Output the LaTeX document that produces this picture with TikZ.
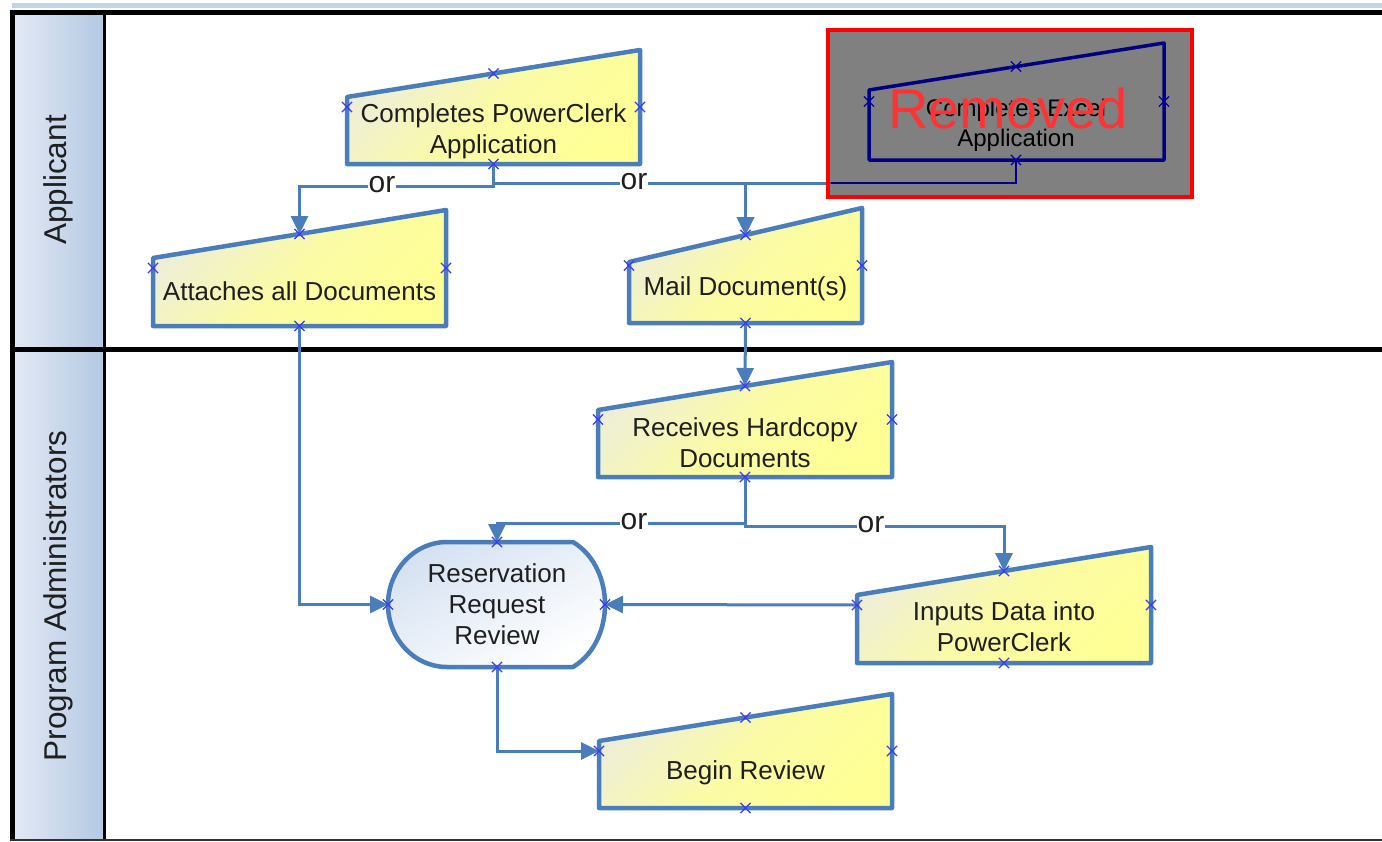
\documentclass[tikz,border=0pt]{standalone}
\usepackage{fontspec}
\setmainfont{Liberation Sans}
\usetikzlibrary{arrows.meta,shapes.misc,calc}
\definecolor{lineblue}{HTML}{4A7EBB}
\definecolor{markblue}{HTML}{3B3BF5}
\definecolor{paleyel}{HTML}{EEEED8}
\definecolor{yel}{HTML}{FFFF96}
\definecolor{hdrlight}{HTML}{E2E9F4}
\definecolor{hdrdark}{HTML}{B4C8E3}
\definecolor{navyc}{HTML}{000080}
\definecolor{boxgray}{HTML}{808080}
\definecolor{rrblue}{HTML}{D6E2F2}
\tikzset{
  mishape/.style={draw=lineblue, line width=4.5pt, line join=round, top color=paleyel, bottom color=yel, middle color=yel!75!paleyel, shading angle=45},
  mitext/.style={font=\fontsize{26}{31}\selectfont, align=center, text=black!88, inner sep=0pt},
  lanetext/.style={font=\fontsize{31.5}{34}\selectfont, text=black!88, rotate=90, inner sep=0pt},
  conn/.style={draw=lineblue, line width=3pt, line join=miter},
  arr/.style={conn, -{Triangle[length=18pt,width=17pt]}},
  orlab/.style={font=\fontsize{30}{32}\selectfont, text=black!88, fill=white, inner sep=1pt},
  cmark/.style={cross out, draw=markblue, line width=1.2pt, minimum size=9pt, inner sep=0pt},
  frame/.style={draw=black, line width=5pt},
}
\newcommand\maninp[8]{%
  \path[mishape] (#2,#6) -- (#2,#4) -- (#3,#5) -- (#3,#6) -- cycle;
  \node[mitext] (#1) at ({(#2+#3)/2},#8) {#7};
  \coordinate (#1-n) at ({(#2+#3)/2},{(#4+#5)/2});
  \coordinate (#1-s) at ({(#2+#3)/2},#6);
  \coordinate (#1-w) at (#2,{(#5+#6)/2});
  \coordinate (#1-e) at (#3,{(#5+#6)/2});
}
\newcommand\cmarks[2][cmark]{%
  \node[#1] (#2-mn) at (#2-n) {};
  \node[#1] (#2-ms) at (#2-s) {};
  \node[#1] (#2-mw) at (#2-w) {};
  \node[#1] (#2-me) at (#2-e) {};
}
\begin{document}
\begin{tikzpicture}[x=1pt,y=-1pt]
\useasboundingbox (0,0) rectangle (1382,841);
% lanes
\fill[hdrdark!80] (12,3) rectangle (1382,8);
\shade[left color=hdrlight, right color=hdrdark] (14,14) rectangle (104,349);
\shade[left color=hdrlight, right color=hdrdark] (14,349) rectangle (104,839);
\node[lanetext] (lane1) at (58,180) {Applicant};
\node[lanetext] (lane2) at (58,596) {Program Administrators};
\draw[frame] (10,12) -- (1382,12);
\draw[frame] (12,10) -- (12,841);
\draw[draw=black, line width=3.5pt] (104.5,12) -- (104.5,841);
\draw[draw=black, line width=4.5pt] (10,349.5) -- (1382,349.5);
\draw[draw=black!80, line width=2.5pt] (10,840) -- (1382,840);

% shapes
\maninp{pc}{347}{640}{97}{50}{164}{Completes PowerClerk\\Application}{131.5}
\maninp{at}{153}{446}{258}{210}{326}{Attaches all Documents}{291}
\maninp{ml}{629}{862}{262}{208}{323}{Mail Document(s)}{289}
\maninp{rc}{598}{892}{410}{362}{477}{Receives Hardcopy\\Documents}{443}
\maninp{in}{857}{1151}{595}{547}{663}{Inputs Data into\\PowerClerk}{627}
\maninp{br}{599}{892}{741}{694}{808}{Begin Review}{773}

% reservation request review
\path[draw=lineblue, line width=4.5pt, line join=round, left color=rrblue, right color=white, shading angle=30]
  (447,542) -- (573,542) .. controls (596,556) and (605,582) .. (605,604.5)
  .. controls (605,627) and (596,653) .. (573,667) -- (447,667)
  .. controls (414.4,667) and (388,639) .. (388,604.5)
  .. controls (388,570) and (414.4,542) .. (447,542) -- cycle;
\node[mitext] (rr) at (497,604) {Reservation\\Request\\Review};
\coordinate (rr-n) at (497,542);
\coordinate (rr-s) at (497,667);
\coordinate (rr-w) at (388,604.5);
\coordinate (rr-e) at (605,604.5);

% Excel application (removed)
\coordinate (ex-s) at (1016,160);

% connectors
\draw[arr] (pc-s) -- ++(0,22) -| (at-n);
\draw[arr] (pc-s) -- ++(0,19) -| (ml-n);
\draw[arr] (ex-s) -- ++(0,23) -| (ml-n);
\node[orlab] (or1) at (382,185) {or};
\node[orlab] (or2) at (634,182) {or};
\draw[arr] (at-s) |- (rr-w);
\draw[arr] (ml-s) -- (rc-n);
\draw[arr] (rc-s) -- ++(0,46) -| (rr-n);
\draw[arr] (rc-s) -- ++(0,49) -| (in-n);
\node[orlab] (or3) at (634,522) {or};
\node[orlab] (or4) at (871,525) {or};
\draw[arr] (in-w) -- (rr-e);
\draw[arr] (rr-s) |- (br-w);

% marks
\cmarks{pc}\cmarks{at}\cmarks{ml}\cmarks{rc}\cmarks{in}\cmarks{br}\cmarks{rr}

% removed box
\draw[draw=red, line width=4.5pt, fill=boxgray] (828,30) rectangle (1192,197);
\begin{scope}
  \clip (830.5,32.5) rectangle (1189.5,194.5);
  \draw[draw=navyc, line width=2.6pt] (ex-s) -- ++(0,23) -| (ml-n);
\end{scope}
\path[draw=navyc, line width=3.5pt, line join=round] (869,160) -- (869,90) -- (1164,43) -- (1164,160) -- cycle;
\node[mitext, text=black, font=\fontsize{24}{30}\selectfont] (ex) at (1016,125) {Completes Excel\\Application};
\coordinate (ex-n) at (1016,66.5);
\coordinate (ex-w) at (869,101.5);
\coordinate (ex-e) at (1164,101.5);
\cmarks[cmark, draw=navyc!70!blue]{ex}
\node[font=\fontsize{56}{60}\selectfont, text=red!80!white, inner sep=0pt] (rm) at (1008,108) {Removed};
\end{tikzpicture}
\end{document}
